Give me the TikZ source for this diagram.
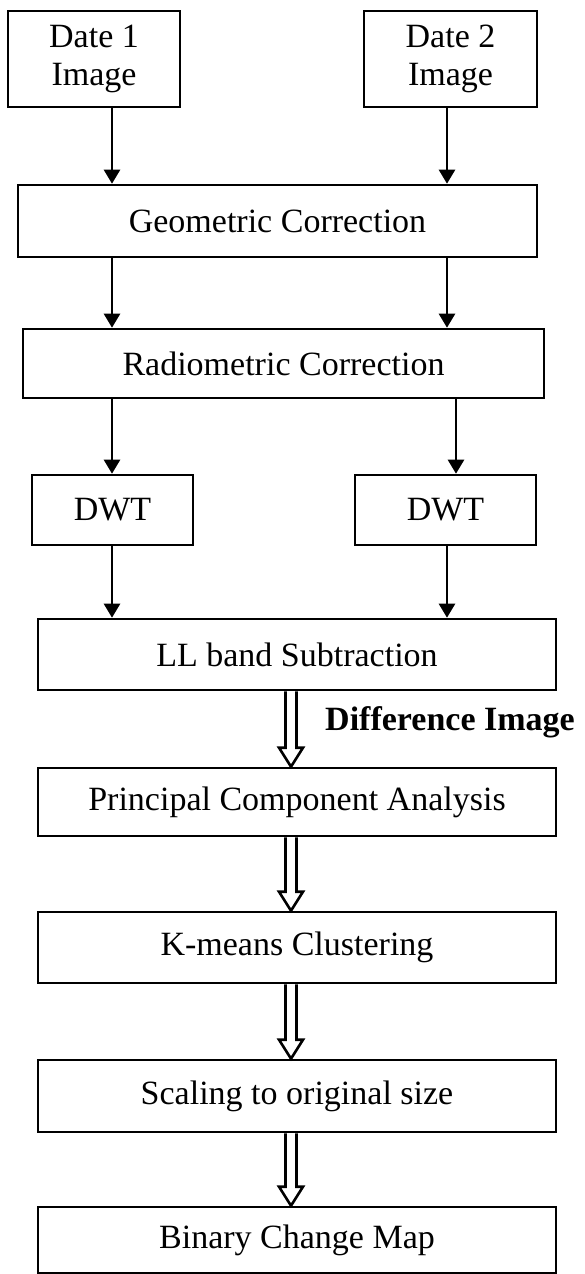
\documentclass[tikz,border=0pt]{standalone}
\usepackage{fontspec}
\setmainfont{Liberation Serif}
\usetikzlibrary{arrows.meta,calc}

\tikzset{
	box/.style={draw, line width=1.3pt, inner sep=0pt, align=center, font=\fontsize{17}{19}\selectfont},
	hollow/.style={line width=1.3pt, to path={let \p1=(\tikztostart), \p2=(\tikztotarget) in
		(\x1-2.75pt,\y1) -- (\x1-2.75pt,\y2+9.5pt) -- (\x1-6pt,\y2+9.5pt) -- (\x1,\y2)
		-- (\x1+6pt,\y2+9.5pt) -- (\x1+2.75pt,\y2+9.5pt) -- (\x1+2.75pt,\y1)}}
}

\begin{document}
\begin{tikzpicture}[x=0.5pt, y=-0.5pt, line width=1.3pt, >={Triangle[length=7pt,width=8pt]}]
	\useasboundingbox (0,0) rectangle (584,1274);
	\coordinate (c1) at (112,0);
	\coordinate (c2) at (447,0);
	\coordinate (c3) at (456,0);
	\coordinate (c4) at (291,0);

	\node at (94,59) [box, minimum width=86pt, minimum height=48pt] (d1) {Date 1\\Image};
	\node at (450.5,59) [box, minimum width=86.5pt, minimum height=48pt] (d2) {Date 2\\Image};
	\node at (277.5,221) [box, minimum width=259.5pt, minimum height=36pt] (geo) {Geometric Correction};
	\node at (283.5,363.5) [box, minimum width=260.5pt, minimum height=34.5pt] (rad) {Radiometric Correction};
	\node at (112.5,510) [box, minimum width=80.5pt, minimum height=35pt] (dwt1) {DWT};
	\node at (445.5,510) [box, minimum width=90.5pt, minimum height=35pt] (dwt2) {DWT};
	\node at (297,654.5) [box, minimum width=259pt, minimum height=35.5pt] (ll) {LL band Subtraction};
	\node at (450,722) [font=\fontsize{17}{19}\selectfont\bfseries, inner sep=0pt] (diff) {Difference Image};
	\node at (297,802) [box, minimum width=259pt, minimum height=34pt] (pca) {Principal Component Analysis};
	\node at (297,947.5) [box, minimum width=259pt, minimum height=35.5pt] (km) {K-means Clustering};
	\node at (297,1096) [box, minimum width=259pt, minimum height=36pt] (sc) {Scaling to original size};
	\node at (297,1240) [box, minimum width=259pt, minimum height=33pt] (bcm) {Binary Change Map};

	\draw [->] (d1.south -| c1) -- (geo.north -| c1);
	\draw [->] (d2.south -| c2) -- (geo.north -| c2);
	\draw [->] (geo.south -| c1) -- (rad.north -| c1);
	\draw [->] (geo.south -| c2) -- (rad.north -| c2);
	\draw [->] (rad.south -| c1) -- (dwt1.north -| c1);
	\draw [->] (rad.south -| c3) -- (dwt2.north -| c3);
	\draw [->] (dwt1.south -| c1) -- (ll.north -| c1);
	\draw [->] (dwt2.south -| c2) -- (ll.north -| c2);

	\draw (ll.south -| c4) to[hollow] (pca.north -| c4);
	\draw (pca.south -| c4) to[hollow] (km.north -| c4);
	\draw (km.south -| c4) to[hollow] (sc.north -| c4);
	\draw (sc.south -| c4) to[hollow] (bcm.north -| c4);
\end{tikzpicture}
\end{document}
